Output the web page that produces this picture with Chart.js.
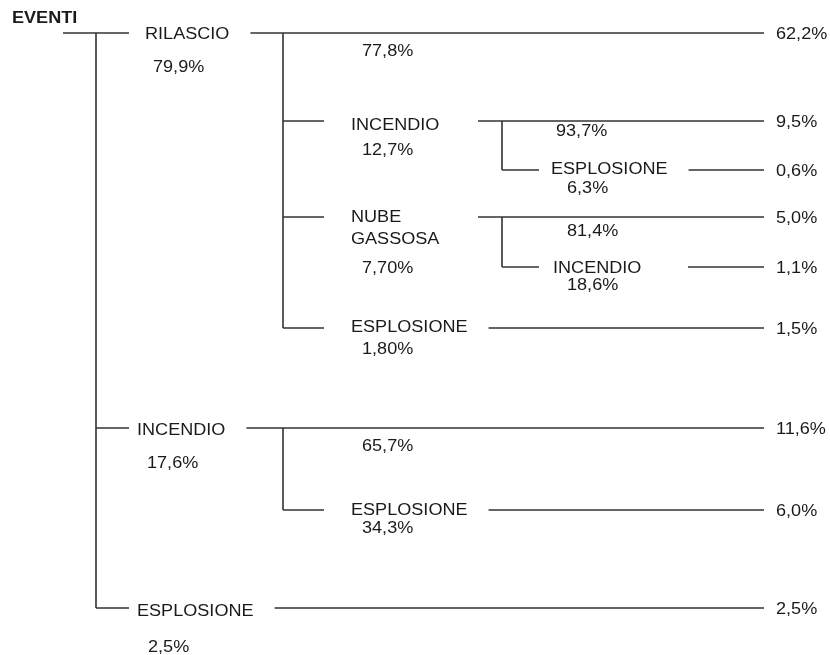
<!DOCTYPE html>
<html>
<head>
<meta charset="utf-8">
<script src="https://cdn.jsdelivr.net/npm/chart.js@4.4.1/dist/chart.umd.min.js"></script>
<style>
  html, body { margin: 0; padding: 0; background: #fff; }
  #tree { display: block; }
</style>
</head>
<body>
<canvas id="tree" width="830" height="655"></canvas>
<script>
// ==================== DATA ====================
// event tree nodes (0 = root)
const nodeNames = ['EVENTI', 'RILASCIO', 'INCENDIO', 'ESPLOSIONE', 'NUBE\nGASSOSA', 'INCENDIO', 'ESPLOSIONE', 'INCENDIO', 'ESPLOSIONE', 'ESPLOSIONE'];
const nodeParent = [-1, 0, 1, 2, 1, 4, 1, 0, 7, 0];
// branch probability, written under each event name
const nodeProb = ['', '79,9%', '12,7%', '6,3%', '7,70%', '18,6%', '1,80%', '17,6%', '34,3%', '2,5%'];
// probability that nothing further happens after this event
const continueProb = ['', '77,8%', '93,7%', '', '81,4%', '', '', '65,7%', '', ''];
// final frequency at the end of each branch line
const outcomeProb = ['', '62,2%', '9,5%', '0,6%', '5,0%', '1,1%', '1,5%', '11,6%', '6,0%', '2,5%'];

// ==================== LAYOUT ====================
const W = 830, H = 655;
const LINE_END = 764, OUTCOME_X = 776;
const levelX = [96, 283, 502];          // vertical connectors per level
const stubEnd = [0, 129, 324, 539];     // end of the stub coming from the connector
const minLineStart = [0, 0, 478, 688];
const nodeY =  [33, 33, 121, 170, 217, 267, 328, 428, 510, 608];
const labelY = [17.5, 33.5, 124, 168, 216, 267, 326, 429, 509, 610];
const labelX = [12, 145, 351, 551, 351, 553, 351, 137, 351, 137];
const probX =  [0, 153, 362, 567, 362, 567, 362, 147, 362, 148];
const probY =  [0, 66.5, 149, 187, 267, 284, 348, 462, 527, 646];
const contX =  [0, 362, 556, 0, 567, 0, 0, 362, 0, 0];
const contY =  [0, 50, 130, 0, 230, 0, 0, 445, 0, 0];

const FONT_PX = 16;
const TEXT_SX = 1.13;
const FONT = FONT_PX + 'px "Liberation Sans", Arial, Helvetica, sans-serif';
const BOLD = 'bold ' + FONT;
const LINE_COLOR = '#333';
const TEXT_COLOR = '#1a1a1a';

const measureCtx = document.createElement('canvas').getContext('2d');
function textWidth(str, font) {
  measureCtx.font = font;
  return Math.max(...str.split('\n').map(s => measureCtx.measureText(s).width)) * TEXT_SX;
}

function levelOf(i) {
  let l = 0;
  while (nodeParent[i] !== -1) { i = nodeParent[i]; l++; }
  return l;
}

// build line segments from the tree
const segments = [];
// root lead-in
segments.push([[63, nodeY[0]], [levelX[0], nodeY[0]]]);
nodeNames.forEach((name, i) => {
  const children = nodeParent.map((p, j) => p === i ? j : -1).filter(j => j >= 0);
  const lvl = levelOf(i);
  if (i > 0) {
    // stub from parent connector
    segments.push([[levelX[lvl - 1], nodeY[i]], [stubEnd[lvl], nodeY[i]]]);
    // line after label up to the outcome
    const start = Math.max(minLineStart[lvl], labelX[i] + textWidth(name, FONT) + 21);
    segments.push([[start, nodeY[i]], [LINE_END, nodeY[i]]]);
  }
  if (children.length) {
    const last = children[children.length - 1];
    segments.push([[levelX[lvl], nodeY[i]], [levelX[lvl], nodeY[last]]]);
  }
});

const datasets = segments.map(s => ({
  data: s.map(p => ({ x: p[0], y: p[1] })),
  showLine: true,
  borderColor: LINE_COLOR,
  borderWidth: 1.6,
  pointRadius: 0,
  fill: false
}));

// ==================== TEXT PLUGIN ====================
const treeText = {
  id: 'treeText',
  afterDatasetsDraw(chart) {
    const ctx = chart.ctx;
    const xs = chart.scales.x, ys = chart.scales.y;
    const put = (str, x, capY, font) => {
      ctx.save();
      ctx.font = font || FONT;
      ctx.fillStyle = TEXT_COLOR;
      ctx.textBaseline = 'alphabetic';
      ctx.textAlign = 'left';
      ctx.translate(xs.getPixelForValue(x), ys.getPixelForValue(capY + FONT_PX * 0.358));
      ctx.scale(TEXT_SX, 1);
      ctx.fillText(str, 0, 0);
      ctx.restore();
    };
    nodeNames.forEach((name, i) => {
      name.split('\n').forEach((line, k) => put(line, labelX[i], labelY[i] + k * 22, i === 0 ? BOLD : FONT));
      if (nodeProb[i]) put(nodeProb[i], probX[i], probY[i]);
      if (continueProb[i]) put(continueProb[i], contX[i], contY[i]);
      if (outcomeProb[i]) put(outcomeProb[i], OUTCOME_X, nodeY[i] + 0.5);
    });
  }
};

new Chart(document.getElementById('tree'), {
  type: 'scatter',
  data: { datasets },
  options: {
    responsive: false,
    animation: false,
    layout: { padding: 0 },
    plugins: { legend: { display: false }, tooltip: { enabled: false } },
    scales: {
      x: { type: 'linear', min: 0, max: W, display: false },
      y: { type: 'linear', min: 0, max: H, reverse: true, display: false }
    }
  },
  plugins: [treeText]
});
</script>
</body>
</html>
